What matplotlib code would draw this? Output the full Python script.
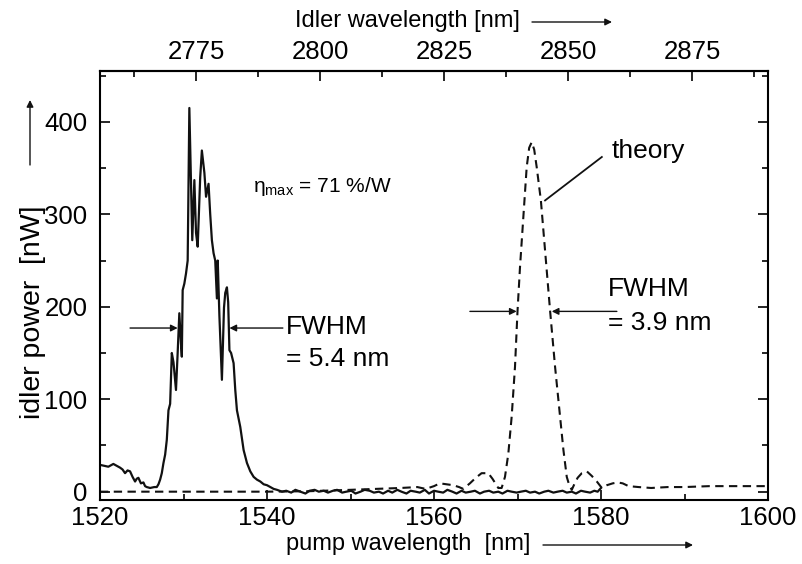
import numpy as np
import matplotlib
matplotlib.use('Agg')
import matplotlib.pyplot as plt
from matplotlib.ticker import MultipleLocator

plt.rcParams['font.family'] = ['Liberation Sans', 'DejaVu Sans']
plt.rcParams['mathtext.fontset'] = 'custom'
plt.rcParams['mathtext.rm'] = 'Liberation Sans'
plt.rcParams['mathtext.it'] = 'Liberation Sans'

meas_wl = [1520.0, 1520.5, 1521.0, 1521.6, 1522.0, 1522.4, 1522.7, 1523.0, 1523.3, 1523.6,
           1523.9, 1524.2, 1524.4, 1524.6, 1524.9, 1525.2, 1525.4, 1525.6, 1526.0, 1526.5,
           1526.8, 1527.0, 1527.2, 1527.4, 1527.6, 1527.8, 1528.0, 1528.2, 1528.4, 1528.6,
           1528.8, 1529.1, 1529.3, 1529.5, 1529.7, 1529.8, 1529.9, 1530.1, 1530.3, 1530.5,
           1530.7, 1531.05, 1531.3, 1531.5, 1531.7, 1532.0, 1532.2, 1532.5, 1532.7, 1533.0,
           1533.2, 1533.4, 1533.6, 1533.8, 1534.0, 1534.1, 1534.3, 1534.6, 1534.85, 1535.0,
           1535.2, 1535.35, 1535.5, 1535.7, 1536.0, 1536.2, 1536.4, 1536.8, 1537.2, 1537.6,
           1538.0, 1538.4, 1538.8, 1539.2, 1539.6, 1540.0, 1540.4, 1540.8, 1541.2, 1541.8,
           1542.3, 1542.9, 1543.4, 1544.0, 1544.6, 1545.1, 1545.7, 1546.2, 1546.8, 1547.3,
           1547.9, 1548.4, 1549.0, 1549.5, 1550.1, 1550.6, 1551.2, 1551.7, 1552.3, 1552.8,
           1553.4, 1553.9, 1554.5, 1555.0, 1555.6, 1556.1, 1556.7, 1557.2, 1557.8, 1558.3,
           1558.9, 1559.4, 1560.0, 1560.5, 1561.1, 1561.6, 1562.2, 1562.7, 1563.3, 1563.8,
           1564.4, 1564.9, 1565.5, 1566.0, 1566.6, 1567.1, 1567.7, 1568.2, 1568.8, 1569.3,
           1569.9, 1570.4, 1571.0, 1571.5, 1572.1, 1572.6, 1573.2, 1573.7, 1574.3, 1574.8,
           1575.4, 1575.9, 1576.5, 1577.0, 1577.6, 1578.1, 1578.7, 1579.2, 1579.6, 1580.0]
meas_pw = [29, 28, 27, 30, 28, 26, 24, 20, 23, 22,
           16, 11, 14, 15, 9, 10, 6, 5, 4, 5,
           5, 8, 13, 20, 31, 40, 56, 88, 95, 150,
           140, 110, 150, 193, 160, 146, 218, 225, 236, 250,
           415, 272, 337, 280, 265, 340, 369, 345, 319, 333,
           300, 272, 258, 250, 209, 250, 190, 121, 199, 215,
           221, 205, 153, 150, 139, 110, 88, 70, 45, 31,
           22, 16, 13, 11, 8, 7, 5, 3, 2, 0,
           1, -1, 2, 0, -2, 1, 2, 0, 1, -1,
           1, 2, -1, 0, 1, -2, 0, 2, 1, -1,
           0, -2, 1, -1, 2, 0, -2, 1, 0, -1,
           2, -2, 1, 0, -1, 2, 0, -2, 1, -1,
           0, 1, -2, 0, 1, -1, 0, -2, 1, 0,
           -1, 0, 1, -1, 0, -2, 0, 1, -1, 0,
           1, -1, 0, -2, 1, 0, -1, 1, 0, 4]

# theoretical curve (dashed line)
theo_wl = [1520.0, 1530.0, 1540.0, 1545.0, 1550.0, 1553.0, 1556.0, 1558.0, 1559.0, 1560.0,
           1560.7, 1561.5, 1562.3, 1563.0, 1563.5, 1564.3, 1565.0, 1565.7, 1566.5, 1567.0,
           1567.7, 1568.1, 1568.5, 1568.9, 1569.3, 1569.7, 1570.0, 1570.3, 1570.7, 1571.1,
           1571.4, 1571.7, 1572.0, 1572.3, 1572.8, 1573.3, 1573.9, 1574.5, 1575.1, 1575.5,
           1575.9, 1576.2, 1576.5, 1576.8, 1577.2, 1577.7, 1578.3, 1578.9, 1579.5, 1580.1,
           1580.7, 1581.4, 1582.0, 1582.6, 1583.3, 1584.5, 1586.0, 1588.0, 1590.0, 1593.0,
           1596.0, 1600.0]
theo_pw = [0, 0, 0, 0.5, 2, 3, 4, 5, 3, 6,
           9, 8, 7, 5, 3, 9, 15, 20, 20, 14,
           4, 4, 16, 41, 81, 135, 195, 243, 297, 351,
           372, 378, 370, 351, 315, 261, 196, 135, 81, 45,
           16, 7, 2, 8, 15, 20, 22, 17, 11, 4,
           7, 9, 10, 9, 6, 5, 4, 5, 5, 6,
           6, 6]

pump_ticks = [1520, 1540, 1560, 1580, 1600]
idler_ticks = [2775, 2800, 2825, 2850, 2875]


def pump_to_idler(p):
    return 2775 + (np.asarray(p) - 1531.5) * 100 / 59.4


def idler_to_pump(i):
    return 1531.5 + (np.asarray(i) - 2775) * 59.4 / 100


fig = plt.figure(figsize=(8.03, 5.64), dpi=100)
ax = fig.add_axes([100 / 803, 1 - 500 / 564, 668 / 803, 429 / 564])

ax.plot(meas_wl, meas_pw, '-', color='#111111', lw=1.6)
ax.plot(theo_wl, theo_pw, '--', color='#111111', lw=1.5, dashes=(4, 2.6))

ax.set_xlim(1520, 1600)
ax.set_ylim(-9, 455)
ax.set_xticks(pump_ticks)
ax.set_yticks([0, 100, 200, 300, 400])
ax.xaxis.set_minor_locator(MultipleLocator(10))
ax.yaxis.set_minor_locator(MultipleLocator(50))
ax.tick_params(which='both', direction='in', top=False, right=True, labelsize=18.5, width=1.2)
ax.tick_params(which='major', length=7)
ax.tick_params(which='minor', length=4.5)
ax.tick_params(axis='x', pad=4)
ax.tick_params(axis='y', pad=9)
for s in ax.spines.values():
    s.set_linewidth(1.5)

top = ax.secondary_xaxis('top', functions=(pump_to_idler, idler_to_pump))
top.set_xticks(idler_ticks)
top.xaxis.set_minor_locator(MultipleLocator(12.5))
top.tick_params(which='both', direction='in', labelsize=18.5, width=1.2, pad=5)
top.tick_params(which='major', length=7)
top.tick_params(which='minor', length=4.5)
top.spines['top'].set_linewidth(1.5)

arrow = dict(arrowstyle='-|>', color='#111111', lw=1.0, mutation_scale=10, shrinkA=0, shrinkB=0)

# FWHM markers, measured peak
ax.annotate('', xy=(1529.3, 177), xytext=(1523.6, 177), arrowprops=arrow)
ax.annotate('', xy=(1535.5, 177), xytext=(1541.9, 177), arrowprops=arrow)
ax.text(1542.3, 178, 'FWHM', fontsize=19, ha='left', va='center')
ax.text(1542.3, 143, '= 5.4 nm', fontsize=19, ha='left', va='center')

# FWHM markers, theory
ax.annotate('', xy=(1569.9, 195), xytext=(1564.3, 195), arrowprops=arrow)
ax.annotate('', xy=(1574.1, 195), xytext=(1581.9, 195), arrowprops=arrow)
ax.text(1580.8, 219, 'FWHM', fontsize=19, ha='left', va='center')
ax.text(1580.8, 182, '= 3.9 nm', fontsize=19, ha='left', va='center')

ax.plot([1573.3, 1580.1], [315, 362], '-', color='#111111', lw=1.3)
ax.text(1581.3, 368, 'theory', fontsize=19, ha='left', va='center')

ax.text(1538.3, 330, r'η$_{\rm max}$ = 71 %/W', fontsize=15, ha='left', va='center')

# axis labels with arrows
fig.text(0.041, 0.447, 'idler power  [nW]', rotation=90, fontsize=20.5, ha='center', va='center')
fig.text(0.508, 0.036, 'pump wavelength  [nm]', fontsize=17, ha='center', va='center')
fig.text(0.508, 0.962, 'Idler wavelength [nm]', fontsize=17, ha='center', va='center')

fig.patches.append(matplotlib.patches.FancyArrowPatch((30 / 803, 1 - 165 / 564), (30 / 803, 1 - 100 / 564),
                   transform=fig.transFigure, **arrow))
fig.patches.append(matplotlib.patches.FancyArrowPatch((543 / 803, 1 - 545 / 564), (693 / 803, 1 - 545 / 564),
                   transform=fig.transFigure, **arrow))
fig.patches.append(matplotlib.patches.FancyArrowPatch((532 / 803, 1 - 22 / 564), (612 / 803, 1 - 22 / 564),
                   transform=fig.transFigure, **arrow))

fig.savefig('out.png', dpi=100)
